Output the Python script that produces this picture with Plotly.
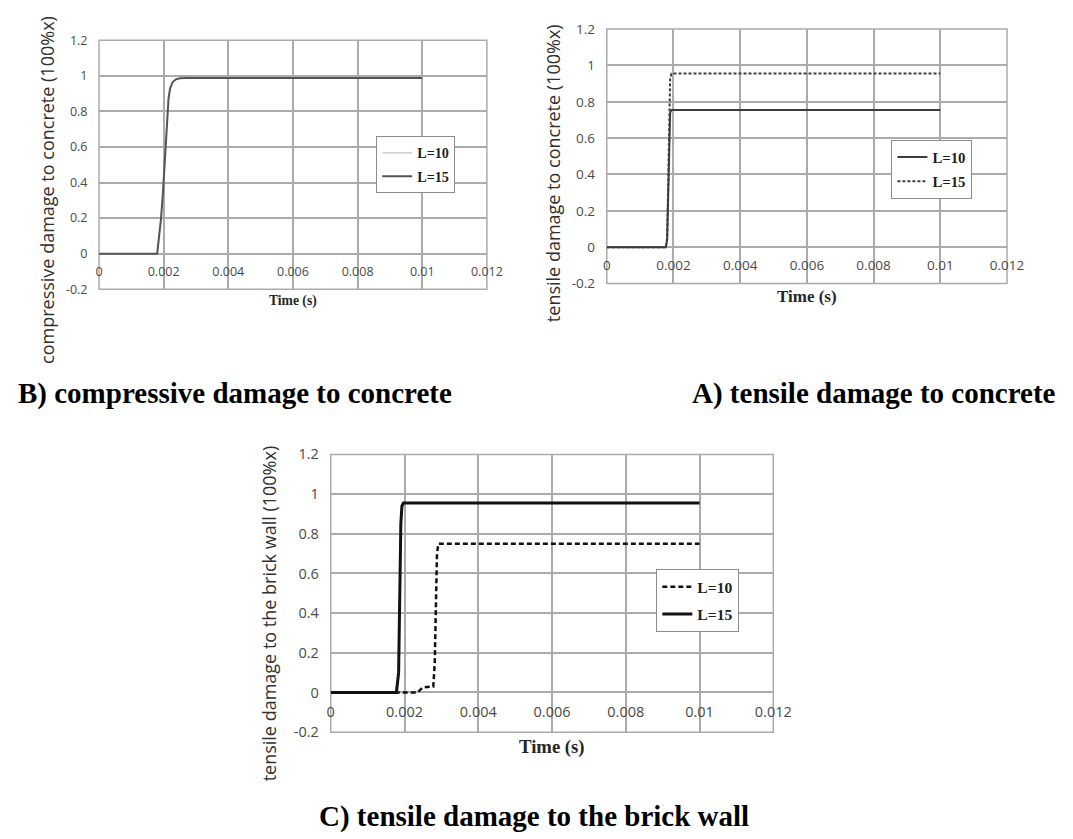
import plotly.graph_objects as go

# ---- tick labels shared by the three panels ----
x_tickvals = [0, 0.002, 0.004, 0.006, 0.008, 0.01, 0.012]
x_ticktext = ["0", "0.002", "0.004", "0.006", "0.008", "0.01", "0.012"]
y_tickvals = [-0.2, 0, 0.2, 0.4, 0.6, 0.8, 1.0, 1.2]
y_ticktext = ["-0.2", "0", "0.2", "0.4", "0.6", "0.8", "1", "1.2"]

# ---- B) compressive damage to concrete ----
comp_time = [0, 0.0018, 0.00186, 0.00192, 0.00198, 0.00204, 0.0021, 0.00215,
             0.0022, 0.00228, 0.00238, 0.0025, 0.0027, 0.01]
comp_L10 = [0, 0, 0.1, 0.2, 0.35, 0.55, 0.75, 0.87, 0.93, 0.965, 0.98, 0.986, 0.988, 0.988]
comp_L15 = [0, 0, 0.1, 0.2, 0.35, 0.55, 0.75, 0.87, 0.93, 0.965, 0.98, 0.986, 0.988, 0.988]

# ---- A) tensile damage to concrete ----
ten_time = [0, 0.00177, 0.00181, 0.00184, 0.00187, 0.0019, 0.00194, 0.01]
ten_L10 = [0, 0, 0.04, 0.3, 0.62, 0.74, 0.755, 0.755]
ten_L15 = [0, 0, 0.05, 0.4, 0.78, 0.93, 0.955, 0.955]

# ---- C) tensile damage to the brick wall ----
brick_time_L10 = [0, 0.00235, 0.00249, 0.00278, 0.00282, 0.00285, 0.00288, 0.00292, 0.01]
brick_L10 = [0, 0, 0.025, 0.03, 0.15, 0.45, 0.7, 0.75, 0.75]
brick_time_L15 = [0, 0.00178, 0.00184, 0.00187, 0.0019, 0.00193, 0.00197, 0.01]
brick_L15 = [0, 0, 0.1, 0.5, 0.85, 0.94, 0.955, 0.955]

series_names = ["L=10", "L=15"]
y_titles = ["compressive damage to concrete (100%x)",
            "tensile damage to concrete (100%x)",
            "tensile damage to the brick wall (100%x)"]
captions = ["B) compressive damage to concrete",
            "A) tensile damage to concrete",
            "C) tensile damage to the brick wall"]

W, H = 1073, 839
GRID = "#ababab"
TICK_COLOR = "#4a4a4a"
TITLE_COLOR = "#303030"
SERIF = "Liberation Serif, Times New Roman, serif"
SANS = "Open Sans, sans-serif"


def px_x(v):
    return v / W


def px_y(v):
    return 1 - v / H


# pixel boxes of the three plotting areas: left, right, top(y=1.2), bottom(y=-0.2)
panels = [
    dict(ax="", left=97, right=493, top=30.9, bottom=285.7, tick=12.5,
         time_size=13.6, time_off=11.3, legend_font=14.2,
         ytitle_x=44, ytitle_y=184, legend_xy=(380, 129), legend_gap=2),
    dict(ax="2", left=615.4, right=1024, top=19.5, bottom=279.9, tick=13.5,
         time_size=17, time_off=13, legend_font=14.8,
         ytitle_x=560.4, ytitle_y=167, legend_xy=(906, 133), legend_gap=2),
    dict(ax="3", left=333.6, right=785.4, top=454.7, bottom=738.9, tick=14.5,
         time_size=18.7, time_off=14.4, legend_font=15.6,
         ytitle_x=270.4, ytitle_y=617.5, legend_xy=(666, 572), legend_gap=4),
]

fig = go.Figure()

# B traces
fig.add_trace(go.Scatter(x=comp_time, y=comp_L10, name=series_names[0], mode="lines",
                         line=dict(color="#c4c4c4", width=1.2), xaxis="x", yaxis="y",
                         legend="legend", legendgroup="b10"))
fig.add_trace(go.Scatter(x=comp_time, y=comp_L15, name=series_names[1], mode="lines",
                         line=dict(color="#555555", width=2), xaxis="x", yaxis="y",
                         legend="legend", legendgroup="b15"))
# A traces
fig.add_trace(go.Scatter(x=ten_time, y=ten_L10, name=series_names[0], mode="lines",
                         line=dict(color="#3c3c3c", width=2), xaxis="x2", yaxis="y2",
                         legend="legend2", legendgroup="a10"))
fig.add_trace(go.Scatter(x=ten_time, y=ten_L15, name=series_names[1], mode="lines",
                         line=dict(color="#3c3c3c", width=2, dash="3px,2px"),
                         xaxis="x2", yaxis="y2", legend="legend2", legendgroup="a15"))
# C traces
fig.add_trace(go.Scatter(x=brick_time_L10, y=brick_L10, name=series_names[0], mode="lines",
                         line=dict(color="#111111", width=2.5, dash="5px,3px"),
                         xaxis="x3", yaxis="y3", legend="legend3", legendgroup="c10"))
fig.add_trace(go.Scatter(x=brick_time_L15, y=brick_L15, name=series_names[1], mode="lines",
                         line=dict(color="#111111", width=3), xaxis="x3", yaxis="y3",
                         legend="legend3", legendgroup="c15"))

layout = dict(
    width=W, height=H,
    margin=dict(l=0, r=0, t=0, b=0),
    paper_bgcolor="white", plot_bgcolor="white",
    showlegend=True, hovermode=False,
)
annotations = []
shapes = []

for p in panels:
    a = p["ax"]
    xdom = [px_x(p["left"]), px_x(p["right"])]
    ydom = [px_y(p["bottom"]), px_y(p["top"])]
    zero_pos = ydom[0] + (0.2 / 1.4) * (ydom[1] - ydom[0])
    layout["xaxis" + a] = dict(
        domain=xdom, range=[0, 0.012], anchor="free", position=zero_pos,
        tickmode="array", tickvals=x_tickvals, ticktext=x_ticktext,
        showgrid=True, gridcolor=GRID, gridwidth=1.5, zeroline=False, showline=False,
        ticks="outside", ticklen=6, tickcolor="rgba(0,0,0,0)",
        tickfont=dict(family=SANS, size=p["tick"], color=TICK_COLOR),
    )
    layout["yaxis" + a] = dict(
        domain=ydom, range=[-0.2, 1.2], anchor="x" + a,
        tickmode="array", tickvals=y_tickvals, ticktext=y_ticktext,
        showgrid=True, gridcolor=GRID, gridwidth=1.5, zeroline=False, showline=False,
        ticks="outside", ticklen=8, tickcolor="rgba(0,0,0,0)",
        tickfont=dict(family=SANS, size=p["tick"], color=TICK_COLOR),
    )
    shapes.append(dict(type="rect", xref="x" + a + " domain", yref="y" + a + " domain",
                       x0=0, x1=1, y0=0, y1=1, line=dict(color=GRID, width=1.5),
                       layer="below"))
    annotations.append(dict(text="<b>Time (s)</b>", xref="x" + a + " domain", x=0.5,
                            yref="y" + a + " domain", y=0, yanchor="middle",
                            yshift=-p["time_off"], showarrow=False,
                            font=dict(family=SERIF, size=p["time_size"], color="#262626")))
    lx, ly = p["legend_xy"]
    layout["legend" + a] = dict(
        x=px_x(lx), y=px_y(ly), xanchor="left", yanchor="top",
        bgcolor="white", bordercolor="#8c8c8c", borderwidth=1,
        tracegroupgap=p["legend_gap"],
        font=dict(family=SERIF, size=p["legend_font"], color="#1e1e1e", weight="bold"),
    )

for p, t in zip(panels, y_titles):
    annotations.append(dict(text=t, xref="paper", yref="paper",
                            x=px_x(p["ytitle_x"]), y=px_y(p["ytitle_y"]),
                            xanchor="center", yanchor="middle", textangle=-90,
                            showarrow=False,
                            font=dict(family=SANS, size=18, color=TITLE_COLOR)))

# figure captions under each panel
annotations.append(dict(text="<b>" + captions[0] + "</b>", xref="paper", yref="paper",
                        x=px_x(12), y=px_y(392), xanchor="left", yanchor="middle",
                        showarrow=False, font=dict(family=SERIF, size=29, color="black")))
annotations.append(dict(text="<b>" + captions[1] + "</b>", xref="paper", yref="paper",
                        x=px_x(888), y=px_y(392), xanchor="center", yanchor="middle",
                        showarrow=False, font=dict(family=SERIF, size=29, color="black")))
annotations.append(dict(text="<b>" + captions[2] + "</b>", xref="paper", yref="paper",
                        x=px_x(541.5), y=px_y(825), xanchor="center", yanchor="middle",
                        showarrow=False, font=dict(family=SERIF, size=29, color="black")))

layout["annotations"] = annotations
layout["shapes"] = shapes
fig.update_layout(**layout)

fig.write_html("out.html", config={"displayModeBar": False})
